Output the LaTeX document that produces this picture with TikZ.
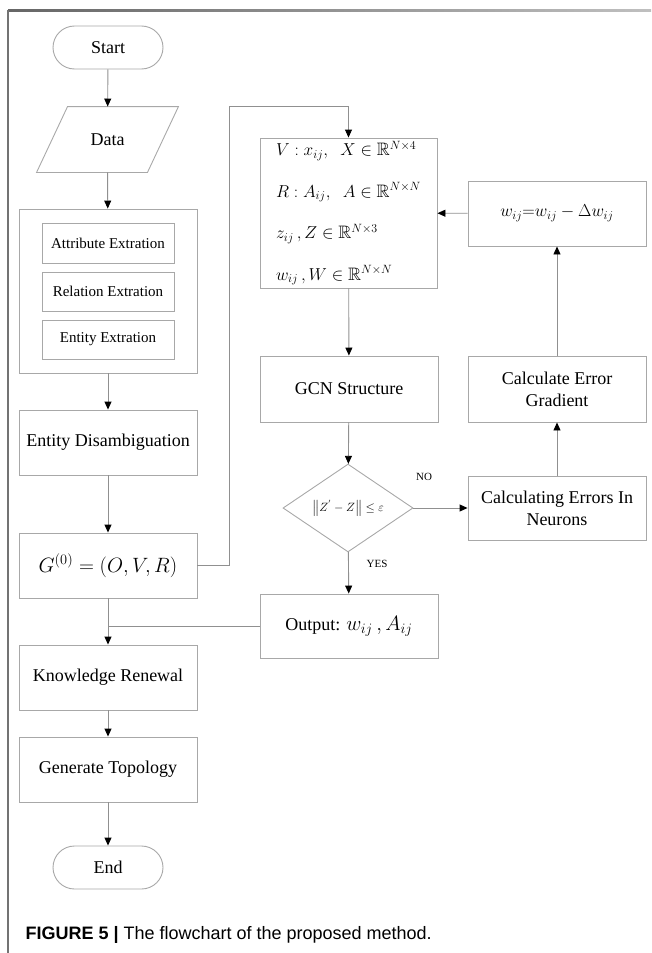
\documentclass[tikz,border=0pt]{standalone}
\usepackage{amssymb}
\usepackage{fontspec}
\setmainfont{Liberation Serif}
\newfontfamily\capfont{Liberation Sans}
\usetikzlibrary{
    arrows.meta,
    shapes.geometric,
    shapes.misc,
    positioning
}
\definecolor{boxgray}{HTML}{A8A8A8}
\definecolor{linegray}{HTML}{909090}

\begin{document}
\begin{tikzpicture}[x=1pt, y=-1pt,
    box/.style={draw=boxgray, line width=0.9pt, minimum width=178pt, minimum height=65pt,
        inner sep=0pt, align=center, font=\fontsize{18}{22}\selectfont},
    smallbox/.style={box, minimum width=132pt, minimum height=39pt, font=\fontsize{15}{18}\selectfont},
    terminal/.style={box, rounded rectangle, minimum width=110pt, minimum height=43pt},
    slanted/.style={box, draw=none, minimum width=110pt},
    flow/.style={draw=linegray, line width=0.9pt, -{Triangle[length=8pt, width=7pt, color=black]}},
    joinline/.style={draw=linegray, line width=0.9pt},
    answer/.style={font=\fontsize{11}{13}\selectfont}]
    \useasboundingbox (0,0) rectangle (651,953);
    \shade[left color=black!60, right color=black!25] (8,9) rectangle (651,11.5);
    \draw[black!55, line width=1.3pt] (8,10) -- (8,953);

    \node[terminal] (start) at (108,47.5) {Start};
    \node[slanted] (data) at (107.5,139.5) {Data};
    \draw[boxgray, line width=0.9pt] ([xshift=-15.5pt]data.south west) -- ([xshift=15.5pt]data.north west)
        -- ([xshift=15.5pt]data.north east) -- ([xshift=-15.5pt]data.south east) -- cycle;
    \node[box, minimum height=164pt] (extract) at (108,291) {};
    \node[smallbox, minimum height=40pt] (attr) at (108,243) {Attribute Extration};
    \node[smallbox] (rel) at (108,291.5) {Relation Extration};
    \node[smallbox] (ent) at (108,339.5) {Entity Extration};
    \node[box] (disamb) at (108,442.5) {Entity Disambiguation};
    \node[box, font=\fontsize{20}{24}\selectfont] (gzero) at (108,565.5) {$G^{(0)}=\bigl(O,V,R\bigr)$};
    \node[box] (renew) at (108,677.5) {Knowledge Renewal};
    \node[box] (topo) at (108,769.5) {Generate Topology};
    \node[terminal] (finish) at (108,867.5) {End};

    \node[box, minimum width=177pt, minimum height=150pt, align=left,
        font=\fontsize{18}{41.5}\selectfont] (param) at (348.5,213)
        {$V:x_{ij},\;\;X\in\mathbb{R}^{N\times 4}$\\
         $R:A_{ij},\;\;A\in\mathbb{R}^{N\times N}$\\
         $z_{ij}\,,Z\in\mathbb{R}^{N\times 3}$\\
         $w_{ij}\,,W\in\mathbb{R}^{N\times N}$};
    \node[box, minimum height=66pt] (gcn) at (349,389) {GCN Structure};
    \node[box, diamond, minimum width=130pt, minimum height=78pt,
        font=\fontsize{13}{16}\selectfont] (check) at (348,508) {$\Bigl\Vert Z^{'}-Z\Bigr\Vert\leq\varepsilon$};
    \node[box, minimum height=64pt] (output) at (349,626)
        {Output: {\fontsize{21}{24}\selectfont$w_{ij}\,,A_{ij}$}};
    \node[box, font=\fontsize{17}{22}\selectfont] (update) at (557,213.5) {$w_{ij}{=}w_{ij}-\Delta w_{ij}$};
    \node[box, minimum height=66pt] (grad) at (557,389) {Calculate Error\\Gradient};
    \node[box, minimum height=64pt] (neuron) at (557,508) {Calculating Errors In\\Neurons};

    \node[answer] (no) at (424,477) {NO};
    \node[answer] (yes) at (377,564) {YES};
    \coordinate (loop) at (229,106);

    \draw[flow] (start) -- (data);
    \draw[flow] (data) -- (extract);
    \draw[flow] (extract) -- (disamb);
    \draw[flow] (disamb) -- (gzero);
    \draw[flow] (gzero) -- (renew);
    \draw[flow] (renew) -- (topo);
    \draw[flow] (topo) -- (finish);
    \draw[flow] (gzero.east) -| (loop) -| (param.north);
    \draw[flow] (param) -- (gcn);
    \draw[flow] (gcn) -- (check);
    \draw[flow] (check) -- (output);
    \draw[flow] (check) -- (neuron);
    \draw[flow] (neuron) -- (grad);
    \draw[flow] (grad) -- (update);
    \draw[flow] (update) -- (param);
    \draw[joinline] (output.west) -- (gzero.south |- output.west);

    \node[anchor=west, font=\capfont\fontsize{18}{22}\selectfont] (caption) at (22,935)
        {\textbf{FIGURE 5 |} The flowchart of the proposed method.};
\end{tikzpicture}
\end{document}
